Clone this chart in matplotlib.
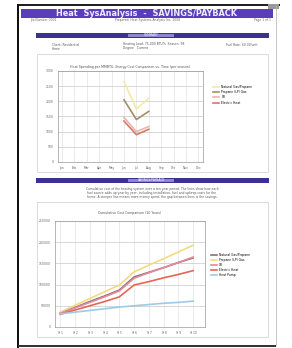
import numpy as np
import matplotlib
matplotlib.use("Agg")
import matplotlib.pyplot as plt
from matplotlib.patches import Rectangle

# chart 1: cost per season, only a few months have data
months = ["Jan", "Feb", "Mar", "Apr", "May", "Jun", "Jul", "Aug", "Sep", "Oct", "Nov", "Dec"]
nan = np.nan
c1_natgas = [nan, nan, nan, nan, nan, 2650, 1750, 2100, nan, nan, nan, nan]
c1_propane = [nan, nan, nan, nan, nan, 2050, 1400, 1670, nan, nan, nan, nan]
c1_oil = [nan, nan, nan, nan, nan, 1470, 1000, 1170, nan, nan, nan, nan]
c1_elec = [nan, nan, nan, nan, nan, 1350, 900, 1080, nan, nan, nan, nan]
c1_names = ["Natural Gas/Propane", "Propane (LP) Gas", "Oil", "Electric Heat"]
c1_ticks = [0, 500, 1000, 1500, 2000, 2500, 3000]

# chart 2: cumulative cost over ten years
years = ["Yr 1", "Yr 2", "Yr 3", "Yr 4", "Yr 5", "Yr 6", "Yr 7", "Yr 8", "Yr 9", "Yr 10"]
c2_dark = [33000, 46000, 60000, 73000, 87000, 118000, 129000, 140000, 152000, 163000]
c2_yellow = [35000, 51000, 67000, 83000, 99000, 130000, 146000, 161000, 177000, 193000]
c2_pink = [32000, 45000, 58000, 71000, 85000, 115000, 128000, 140000, 152000, 165000]
c2_red = [30000, 40000, 50000, 60000, 71000, 99000, 107000, 116000, 124000, 133000]
c2_blue = [31000, 35000, 39000, 43000, 47000, 50000, 53000, 56000, 58000, 61000]
c2_names = ["Natural Gas/Propane", "Propane (LP) Gas", "Oil", "Electric Heat", "Heat Pump"]
c2_ticks = [0, 50000, 100000, 150000, 200000, 250000]

W, H = 292, 348
fig = plt.figure(figsize=(W / 100, H / 100), dpi=100)
fig.patch.set_facecolor("white")


def px_axes(x0, y0, x1, y1, **kw):
    return fig.add_axes([x0 / W, 1 - y1 / H, (x1 - x0) / W, (y1 - y0) / H], **kw)


# page layer for boxes, bars and text
page = px_axes(0, 0, W, H)
page.set_xlim(0, W)
page.set_ylim(H, 0)
page.axis("off")

# page frame
page.add_patch(Rectangle((18, 4), 262, 2, color="#222222", lw=0))
page.add_patch(Rectangle((17, 4), 2, 344, color="#111111", lw=0))
page.add_patch(Rectangle((18, 345), 258, 2, color="#333333", lw=0))
page.plot([276, 276], [6, 345], color="#bbbbbb", lw=0.6)
page.add_patch(Rectangle((268, 4), 11, 5, color="#999999", lw=0))

# header bar
page.add_patch(Rectangle((21, 9), 252, 9, color="#5a3dbd", lw=0))
page.text(146, 13.6, "Heat  SysAnalysis  -  SAVINGS/PAYBACK", color="#eeeaff",
          fontsize=5.9, fontweight="bold", ha="center", va="center")
page.text(30, 20.5, "Job Number 0001", fontsize=2.2, color="#666666", va="center")
page.text(148, 20.5, "Prepared: Heat Systems Analysis Inc, 2008", fontsize=2.2,
          color="#666666", ha="center", va="center")
page.text(271, 20.5, "Page 1 of 1", fontsize=2.2, color="#666666", ha="right", va="center")


def section_bar(y, label):
    page.add_patch(Rectangle((36, y), 233, 4.5, color="#3a3192", lw=0))
    page.add_patch(Rectangle((128, y + 0.6), 46, 3.3, color="#8f85d6", lw=0))
    page.text(151, y + 2.3, label, fontsize=2.2, color="white", ha="center", va="center")


section_bar(33, "SUMMARY")
page.text(52, 44.5, "Client: Residential", fontsize=2.2, color="#555555", va="center")
page.text(52, 48.5, "Home", fontsize=2.2, color="#555555", va="center")
page.text(123, 44.5, "Heating Load: 75,000 BTU/h  Season: 98", fontsize=2.2, color="#555555", va="center")
page.text(123, 48.5, "Degree   Current", fontsize=2.2, color="#555555", va="center")
page.text(258, 44.5, "Fuel Rate: $0.00/unit", fontsize=2.2, color="#555555", ha="right", va="center")

# chart boxes
page.add_patch(Rectangle((37, 54), 231, 118, fill=False, ec="#d5d5d5", lw=0.6))
page.add_patch(Rectangle((37, 202), 231, 135, fill=False, ec="#d5d5d5", lw=0.6))

section_bar(178, "SAVINGS/PAYBACK")
para = ["Cumulative cost of the heating system over a ten year period. The lines show how each",
        "fuel source adds up year by year, including installation, fuel and upkeep costs for the",
        "home. A steeper line means more money spent; the gap between lines is the savings."]
for i, line in enumerate(para):
    page.text(152, 189 + 4 * i, line, fontsize=2.2, color="#555555", ha="center", va="center")

# chart 1
ax1 = px_axes(58, 71, 203, 162)
x1 = np.arange(len(months))
c1_colors = ["#f3eaa8", "#a08f68", "#eeb3ab", "#cf7a6a"]
for vals, col, name in zip([c1_natgas, c1_propane, c1_oil, c1_elec], c1_colors, c1_names):
    ax1.plot(x1, vals, color=col, lw=1.2, label=name)
ax1.set_xlim(-0.32, 11.37)
ax1.set_ylim(0, 3000)
ax1.set_yticks(c1_ticks)
ax1.set_yticklabels([str(t) for t in c1_ticks])
ax1.set_xticks(x1)
ax1.set_xticklabels(months)
ax1.grid(axis="y", color="#c8c8c8", lw=0.5)
ax1.grid(axis="x", color="#e2e2e2", lw=0.5)
ax1.set_axisbelow(True)
ax1.tick_params(labelsize=2.2, length=0, pad=3, colors="#666666")
for s in ax1.spines.values():
    s.set_color("#999999")
    s.set_linewidth(0.5)
ax1.set_title("Heat Spending per MMBTU, Energy Cost Comparison vs. Time (per season)",
              fontsize=2.3, color="#555555", pad=2)
ax1.legend(loc="upper left", bbox_to_anchor=(1.06, 0.86), frameon=False, fontsize=2.2,
           handlelength=2, labelspacing=0.4, borderaxespad=0)

# chart 2
ax2 = px_axes(55, 221, 205, 327)
x2 = np.arange(len(years))
c2_series = [c2_dark, c2_yellow, c2_pink, c2_red, c2_blue]
c2_colors = ["#8a6e78", "#f3da80", "#e58a9a", "#e46655", "#9ccbe6"]
for vals, col, name in zip(c2_series, c2_colors, c2_names):
    ax2.plot(x2, vals, color=col, lw=1.2, label=name)
ax2.set_xlim(-0.35, 9.8)
ax2.set_ylim(0, 250000)
ax2.set_yticks(c2_ticks)
ax2.set_yticklabels([str(t) for t in c2_ticks])
ax2.set_xticks(x2)
ax2.set_xticklabels(years)
ax2.grid(axis="y", color="#c8c8c8", lw=0.5)
ax2.grid(axis="x", color="#e2e2e2", lw=0.5)
ax2.set_axisbelow(True)
ax2.tick_params(labelsize=2.2, length=0, pad=3, colors="#666666")
for s in ax2.spines.values():
    s.set_color("#999999")
    s.set_linewidth(0.5)
ax2.set_title("Cumulative Cost Comparison (10 Years)", fontsize=2.3, color="#555555", pad=5)
ax2.legend(loc="upper left", bbox_to_anchor=(1.03, 0.71), frameon=False, fontsize=2.2,
           handlelength=2, labelspacing=0.3, borderaxespad=0)

fig.savefig("out.png", dpi=100, facecolor="white")
